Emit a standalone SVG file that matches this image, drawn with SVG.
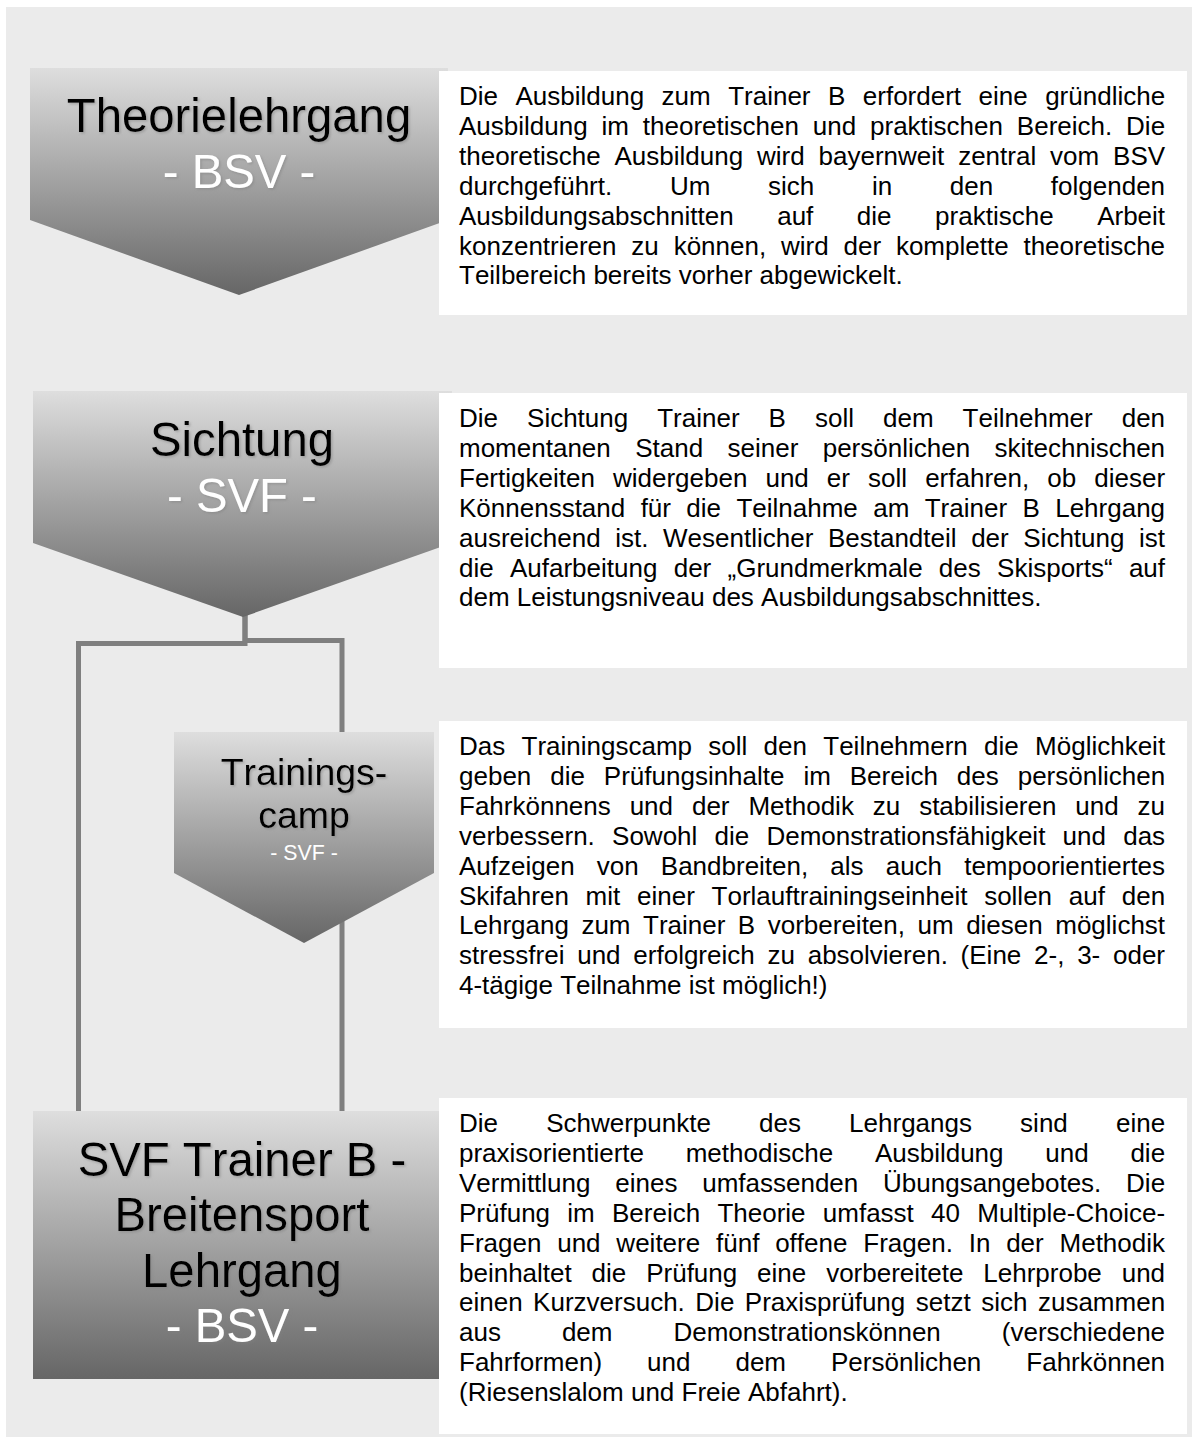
<svg xmlns="http://www.w3.org/2000/svg" width="1192" height="1443" viewBox="0 0 1192 1443">
<defs>
<linearGradient id="grey" x1="0" y1="0" x2="0" y2="1">
<stop offset="0" stop-color="#DEDEDE"/>
<stop offset="1" stop-color="#666666"/>
</linearGradient>
<filter id="shadow" x="-10%" y="-20%" width="120%" height="140%">
<feDropShadow dx="1.5" dy="1.5" stdDeviation="0.8" flood-color="#7f7f7f" flood-opacity="0.5"/>
</filter>
<style>
.bg{fill:#EBEBEB}
.box{fill:#FFFFFF}
.shape{fill:url(#grey)}
.conn{fill:none;stroke:#7F7F7F;stroke-width:5;stroke-linejoin:miter}
.title{font-family:"Liberation Sans",Arial,sans-serif;font-size:47.3px;text-anchor:middle;filter:url(#shadow);font-kerning:none}
.mid{font-family:"Liberation Sans",Arial,sans-serif;font-size:37.5px;text-anchor:middle;filter:url(#shadow);font-kerning:none}
.small{font-family:"Liberation Sans",Arial,sans-serif;font-size:21.3px;text-anchor:middle;font-kerning:none}
.blk{fill:#000000}
.wht{fill:#FFFFFF}
.body{font-family:"Liberation Sans",Arial,sans-serif;font-size:26px;fill:#000000;font-kerning:none}
</style>
</defs>
<rect x="0" y="0" width="1192" height="1443" fill="#FFFFFF"/>
<rect class="bg" x="6" y="7" width="1186" height="1430"/>

<g id="connectors">
<polyline class="conn" points="245,615 245,643.5 78.5,643.5 78.5,1112"/>
<polyline class="conn" points="245,615 245,640.5 342,640.5 342,1112"/>
</g>

<g id="node-theorielehrgang">
<polygon class="shape" points="30,68 448,68 448,220 239,295 30,220"/>
<text class="title blk" x="239" y="132">Theorielehrgang</text>
<text class="title wht" x="239" y="188">- BSV -</text>
</g>

<g id="node-sichtung">
<polygon class="shape" points="33,391 452,391 452,543 243,617 33,543"/>
<text class="title blk" x="242" y="456">Sichtung</text>
<text class="title wht" x="242" y="512">- SVF -</text>
</g>

<g id="node-trainingscamp">
<polygon class="shape" points="174,732 434,732 434,873 304,943 174,873"/>
<text class="mid blk" x="304" y="785">Trainings-</text>
<text class="mid blk" x="304" y="828">camp</text>
<text class="small wht" x="304" y="860">- SVF -</text>
</g>

<g id="node-lehrgang">
<rect class="shape" x="33" y="1111" width="418" height="268"/>
<text class="title blk" x="242" y="1176">SVF Trainer B -</text>
<text class="title blk" x="242" y="1231">Breitensport</text>
<text class="title blk" x="242" y="1287">Lehrgang</text>
<text class="title wht" x="242" y="1342">- BSV -</text>
</g>

<g id="desc-theorielehrgang">
<rect class="box" x="439" y="71" width="748" height="244"/>
<text class="body" x="459" y="105" style="word-spacing:10.24px">Die Ausbildung zum Trainer B erfordert eine gründliche</text>
<text class="body" x="459" y="134.9" style="word-spacing:6.64px">Ausbildung im theoretischen und praktischen Bereich. Die</text>
<text class="body" x="459" y="164.8" style="word-spacing:6.64px">theoretische Ausbildung wird bayernweit zentral vom BSV</text>
<text class="body" x="459" y="194.7" style="word-spacing:50.45px">durchgeführt. Um sich in den folgenden</text>
<text class="body" x="459" y="224.6" style="word-spacing:36.32px">Ausbildungsabschnitten auf die praktische Arbeit</text>
<text class="body" x="459" y="254.5" style="word-spacing:7.6px">konzentrieren zu können, wird der komplette theoretische</text>
<text class="body" x="459" y="284.4">Teilbereich bereits vorher abgewickelt.</text>
</g>

<g id="desc-sichtung">
<rect class="box" x="439" y="393" width="748" height="275"/>
<text class="body" x="459" y="427" style="word-spacing:21.8px">Die Sichtung Trainer B soll dem Teilnehmer den</text>
<text class="body" x="459" y="456.9" style="word-spacing:17.17px">momentanen Stand seiner persönlichen skitechnischen</text>
<text class="body" x="459" y="486.8" style="word-spacing:10.85px">Fertigkeiten widergeben und er soll erfahren, ob dieser</text>
<text class="body" x="459" y="516.7" style="word-spacing:8.16px">Könnensstand für die Teilnahme am Trainer B Lehrgang</text>
<text class="body" x="459" y="546.6" style="word-spacing:7.36px">ausreichend ist. Wesentlicher Bestandteil der Sichtung ist</text>
<text class="body" x="459" y="576.5" style="word-spacing:9.05px">die Aufarbeitung der „Grundmerkmale des Skisports“ auf</text>
<text class="body" x="459" y="606.4">dem Leistungsniveau des Ausbildungsabschnittes.</text>
</g>

<g id="desc-trainingscamp">
<rect class="box" x="439" y="721" width="748" height="307"/>
<text class="body" x="459" y="755" style="word-spacing:9.06px">Das Trainingscamp soll den Teilnehmern die Möglichkeit</text>
<text class="body" x="459" y="784.9" style="word-spacing:11.69px">geben die Prüfungsinhalte im Bereich des persönlichen</text>
<text class="body" x="459" y="814.8" style="word-spacing:11.67px">Fahrkönnens und der Methodik zu stabilisieren und zu</text>
<text class="body" x="459" y="844.7" style="word-spacing:9.99px">verbessern. Sowohl die Demonstrationsfähigkeit und das</text>
<text class="body" x="459" y="874.6" style="word-spacing:14.89px">Aufzeigen von Bandbreiten, als auch tempoorientiertes</text>
<text class="body" x="459" y="904.5" style="word-spacing:9.53px">Skifahren mit einer Torlauftrainingseinheit sollen auf den</text>
<text class="body" x="459" y="934.4" style="word-spacing:5.28px">Lehrgang zum Trainer B vorbereiten, um diesen möglichst</text>
<text class="body" x="459" y="964.3" style="word-spacing:5.52px">stressfrei und erfolgreich zu absolvieren. (Eine 2-, 3- oder</text>
<text class="body" x="459" y="994.2">4-tägige Teilnahme ist möglich!)</text>
</g>

<g id="desc-lehrgang">
<rect class="box" x="439" y="1098" width="748" height="336"/>
<text class="body" x="459" y="1132" style="word-spacing:40.91px">Die Schwerpunkte des Lehrgangs sind eine</text>
<text class="body" x="459" y="1161.9" style="word-spacing:34.52px">praxisorientierte methodische Ausbildung und die</text>
<text class="body" x="459" y="1191.8" style="word-spacing:17.54px">Vermittlung eines umfassenden Übungsangebotes. Die</text>
<text class="body" x="459" y="1221.7" style="word-spacing:10.02px">Prüfung im Bereich Theorie umfasst 40 Multiple-Choice-</text>
<text class="body" x="459" y="1251.6" style="word-spacing:8.58px">Fragen und weitere fünf offene Fragen. In der Methodik</text>
<text class="body" x="459" y="1281.5" style="word-spacing:12.64px">beinhaltet die Prüfung eine vorbereitete Lehrprobe und</text>
<text class="body" x="459" y="1311.4" style="word-spacing:3.28px">einen Kurzversuch. Die Praxisprüfung setzt sich zusammen</text>
<text class="body" x="459" y="1341.3" style="word-spacing:53.74px">aus dem Demonstrationskönnen (verschiedene</text>
<text class="body" x="459" y="1371.2" style="word-spacing:37.78px">Fahrformen) und dem Persönlichen Fahrkönnen</text>
<text class="body" x="459" y="1401.1">(Riesenslalom und Freie Abfahrt).</text>
</g>
</svg>
